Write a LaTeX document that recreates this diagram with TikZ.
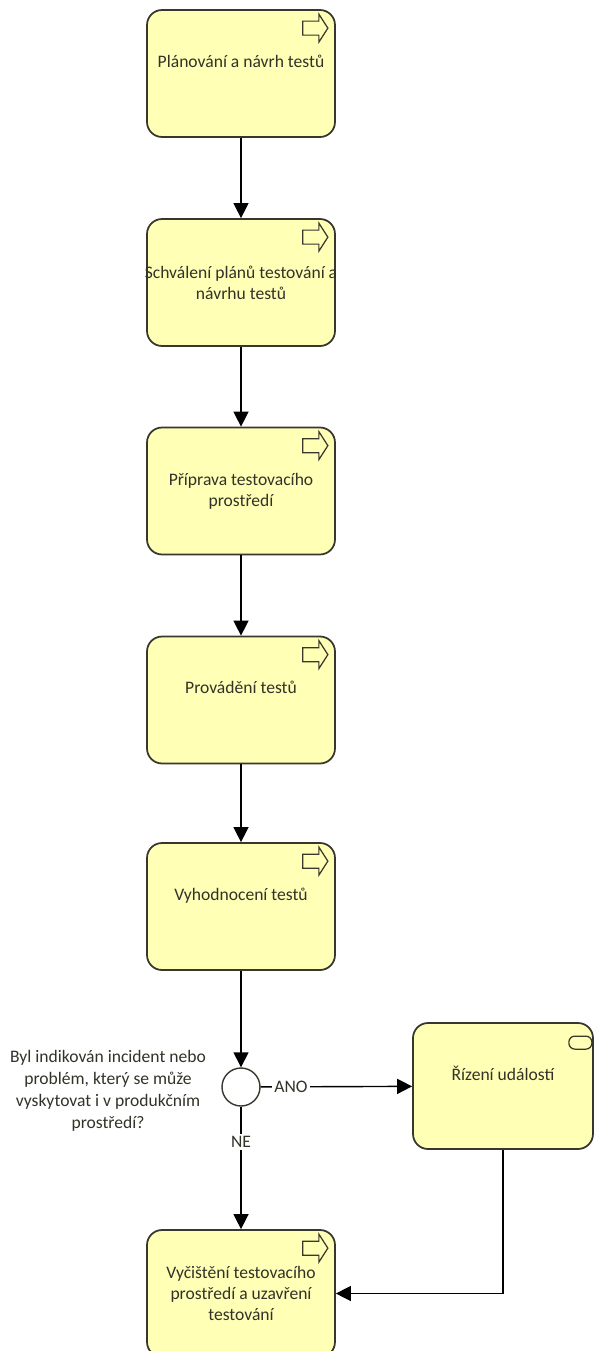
\documentclass[tikz,border=0pt]{standalone}
\usepackage{fontspec}
\setmainfont{Carlito}
\usetikzlibrary{arrows.meta}

\definecolor{taskfill}{RGB}{255,255,182}
\definecolor{taskline}{RGB}{55,55,45}
\definecolor{labeltext}{RGB}{50,50,40}

\newcommand{\taskmark}[1]{%
  \draw[taskline, line width=0.7pt, line join=miter]
    ([shift={(-33,12)}]#1.north east) -- ([shift={(-17,12)}]#1.north east)
    -- ([shift={(-17,5)}]#1.north east) -- ([shift={(-8,19)}]#1.north east)
    -- ([shift={(-17,33)}]#1.north east) -- ([shift={(-17,26)}]#1.north east)
    -- ([shift={(-33,26)}]#1.north east) -- cycle;}
\newcommand{\eventmark}[1]{%
  \draw[taskline, line width=0.7pt, rounded corners=0.12cm]
    ([shift={(-25,14)}]#1.north east) rectangle ([shift={(-2,27)}]#1.north east);}

\begin{document}
\begin{tikzpicture}[x=0.02cm, y=-0.02cm,
  task/.style={draw=taskline, line width=1pt, fill=taskfill, rounded corners=0.3cm,
    minimum width=3.76cm, minimum height=2.54cm, align=center, text=labeltext,
    font=\fontsize{10}{12}\selectfont},
  raised/.style={text depth=0.5cm},
  flow/.style={draw=black, line width=0.8pt, -{Triangle[length=0.3cm, width=0.3cm]}},
  gate/.style={circle, draw=taskline, fill=white, line width=0.8pt, minimum size=0.76cm, inner sep=0pt},
  flowlabel/.style={fill=white, inner sep=1.5pt, text=labeltext, font=\fontsize{10}{12}\selectfont}]
\useasboundingbox (0,0) rectangle (594,1351);

\node[task, raised] (plan) at (241,73.5) {Plánování a návrh testů};
\node[task] (approve) at (241,282.5) {\makebox[3.4cm]{Schválení plánů testování a}\\návrhu testů};
\node[task] (prepare) at (241,491) {Příprava testovacího\\prostředí};
\node[task, raised] (execute) at (241,700) {Provádění testů};
\node[task, raised] (evaluate) at (241,906.5) {Vyhodnocení testů};
\node[gate] (decision) at (241,1087) {};
\node[align=center, text=labeltext, font=\fontsize{10}{12.5}\selectfont] (question) at (108,1091)
  {Byl indikován incident nebo\\problém, který se může\\vyskytovat i v produkčním\\prostředí?};
\node[task, raised, minimum width=3.6cm, minimum height=2.52cm] (incident) at (503,1086) {Řízení událostí};
\node[task] (cleanup) at (241,1293.5) {Vyčištění testovacího\\prostředí a uzavření\\testování};

\taskmark{plan}
\taskmark{approve}
\taskmark{prepare}
\taskmark{execute}
\taskmark{evaluate}
\taskmark{cleanup}
\eventmark{incident}

\draw[flow] (plan) -- (approve);
\draw[flow] (approve) -- (prepare);
\draw[flow] (prepare) -- (execute);
\draw[flow] (execute) -- (evaluate);
\draw[flow] (evaluate) -- (decision);
\draw[flow] (decision) -- node[flowlabel, pos=0.2] {ANO} (incident);
\draw[flow] (decision) -- node[flowlabel, pos=0.29] {NE} (cleanup);
\draw[flow] (incident.south) |- (cleanup.east);
\end{tikzpicture}
\end{document}
